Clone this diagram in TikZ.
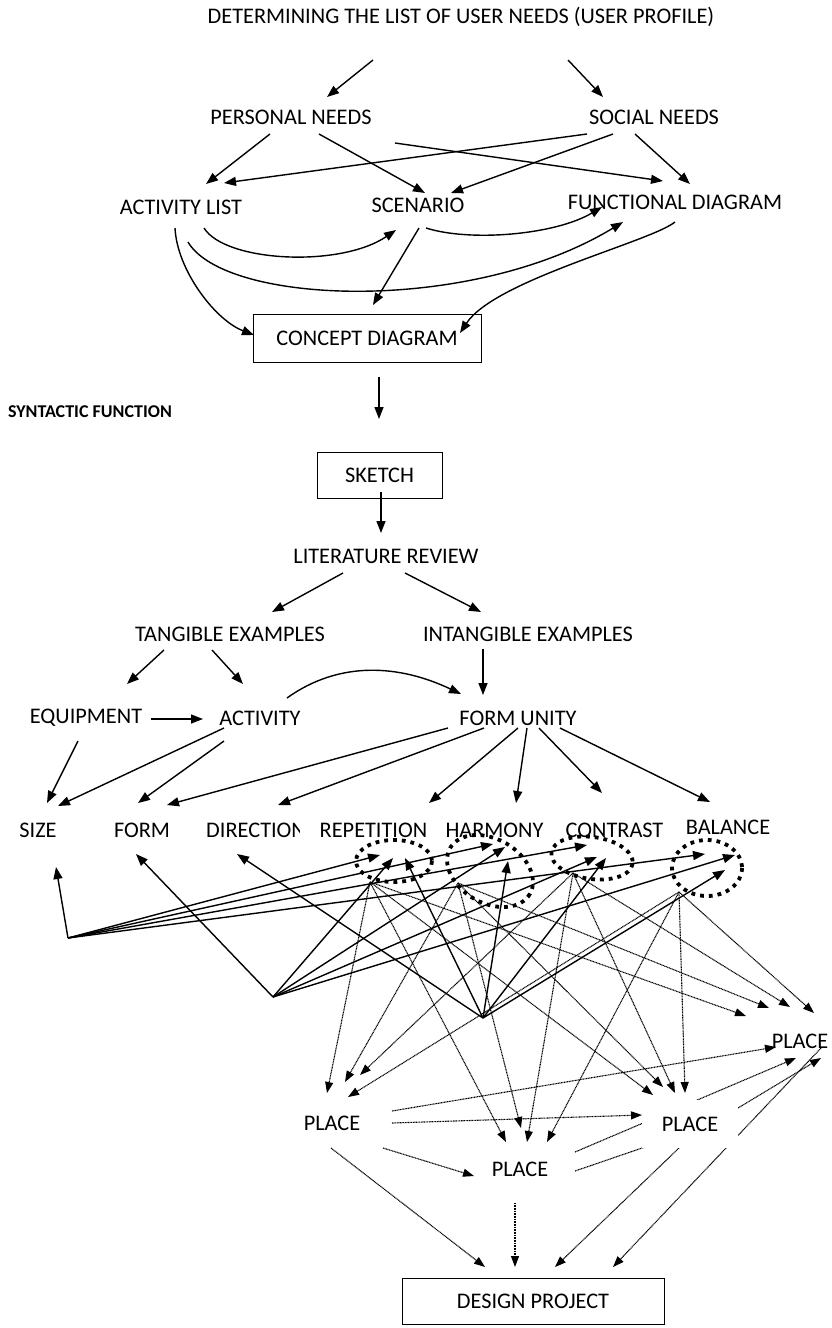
\documentclass[tikz,border=0pt]{standalone}
\usepackage{fontspec}
\setmainfont{Carlito}
\usetikzlibrary{arrows.meta}
\begin{document}
\begin{tikzpicture}[x=1pt,y=-1pt,
  lbl/.style={font=\fontsize{22.3}{26}\selectfont, inner sep=0pt, anchor=center},
  boxed/.style={lbl, draw, line width=1pt},
  arr/.style={line width=1.4pt, -{Triangle[length=12pt,width=9pt]}},
  dotl/.style={line width=1.1pt, dash pattern=on 1pt off 0.6pt, -{Triangle[length=11pt,width=8pt]}},
  dotn/.style={line width=1.1pt, dash pattern=on 1pt off 0.6pt},
  ring/.style={line width=3.8pt, dash pattern=on 3.8pt off 5pt}]
\useasboundingbox (0,0) rectangle (831,1328);

% ---------- nodes ----------
\node[lbl] (T) at (461,17) {DETERMINING THE LIST OF USER NEEDS (USER PROFILE)};
\node[lbl] (PN) at (291,117) {PERSONAL NEEDS};
\node[lbl] (SN) at (654,117) {SOCIAL NEEDS};
\node[lbl] (AL) at (181,207) {ACTIVITY LIST};
\node[lbl] (SC) at (418,205) {SCENARIO};
\node[lbl] (FD) at (675,202) {FUNCTIONAL DIAGRAM};
\node[boxed, minimum width=228pt, minimum height=48pt] (CD) at (367,338) {CONCEPT DIAGRAM};
\node[lbl, font=\fontsize{18}{22}\selectfont\bfseries] (SF) at (90,412) {SYNTACTIC FUNCTION};
\node[boxed, minimum width=125pt, minimum height=46pt] (SK) at (379.5,475) {SKETCH};
\node[lbl] (LR) at (386,556) {LITERATURE REVIEW};
\node[lbl] (TE) at (230,634) {TANGIBLE EXAMPLES};
\node[lbl] (IE) at (528,634) {INTANGIBLE EXAMPLES};
\node[lbl] (EQ) at (86,718) {EQUIPMENT};
\node[lbl] (AC) at (260,718) {ACTIVITY};
\node[lbl] (FU) at (518,718) {FORM UNITY};
\node[lbl] (SZ) at (38,830) {SIZE};
\node[lbl] (FO) at (142,830) {FORM};
\node[lbl, anchor=west] (DI) at (206,830) {DIRECTION};
\node[lbl, fill=white, inner xsep=20pt, inner ysep=2pt] (RE) at (373.5,830) {REPETITION};
\node[lbl] (HA) at (494.5,830) {HARMONY};
\node[lbl] (CO) at (614.5,830) {CONTRAST};
\node[lbl] (BA) at (728,827) {BALANCE};
\node[lbl] (PL1) at (332,1123) {PLACE};
\node[lbl] (PL2) at (520,1169) {PLACE};
\node[lbl] (PL4) at (800,1041) {PLACE};
\node[boxed, minimum width=262pt, minimum height=46pt] (DP) at (533,1301) {DESIGN PROJECT};

% ---------- top connectors ----------
\coordinate (t1) at (373,60);  \coordinate (t1e) at (327,97);
\coordinate (t2) at (568,60);  \coordinate (t2e) at (603,97);
\coordinate (a1) at (270,134); \coordinate (a1e) at (206,184);
\coordinate (a2) at (319,134); \coordinate (a2e) at (425,193);
\coordinate (a3) at (395,143); \coordinate (a3e) at (663,181);
\coordinate (b1) at (587,134); \coordinate (b1e) at (224,183);
\coordinate (b2) at (613,134); \coordinate (b2e) at (451,193);
\coordinate (b3) at (635,134); \coordinate (b3e) at (690,184);
\draw[arr] (t1) -- (t1e);
\draw[arr] (t2) -- (t2e);
\draw[arr] (a1) -- (a1e);
\draw[arr] (a2) -- (a2e);
\draw[arr] (a3) -- (a3e);
\draw[arr] (b1) -- (b1e);
\draw[arr] (b2) -- (b2e);
\draw[arr] (b3) -- (b3e);

\coordinate (c1) at (204,228); \coordinate (c1e) at (396,230);
\coordinate (c2) at (188,242); \coordinate (c2e) at (623,222);
\coordinate (c3) at (175,228); \coordinate (c3e) at (254,335);
\coordinate (c4) at (426,228); \coordinate (c4e) at (602,207);
\coordinate (c5) at (419,228); \coordinate (c5e) at (373,305);
\coordinate (c6) at (675,222); \coordinate (c6e) at (460,333);
\draw[arr] (c1) .. controls (225,262) and (340,268) .. (c1e);
\draw[arr] (c2) .. controls (225,305) and (470,315) .. (c2e);
\draw[arr] (c3) .. controls (177,270) and (215,320) .. (c3e);
\draw[arr] (c4) .. controls (470,242) and (555,235) .. (c4e);
\draw[arr] (c5) -- (c5e);
\draw[arr] (c6) .. controls (650,242) and (495,280) .. (c6e);

% ---------- middle connectors ----------
\coordinate (d1) at (379,377); \coordinate (d1e) at (379,419);
\coordinate (d2) at (381,492); \coordinate (d2e) at (381,533);
\coordinate (d3) at (343,573); \coordinate (d3e) at (272,612);
\coordinate (d4) at (405,573); \coordinate (d4e) at (481,612);
\coordinate (d5) at (164,650); \coordinate (d5e) at (127,684);
\coordinate (d6) at (212,650); \coordinate (d6e) at (243,684);
\coordinate (d7) at (483,649); \coordinate (d7e) at (483,695);
\coordinate (d8) at (151,719); \coordinate (d8e) at (203,719);
\coordinate (d9) at (287,698); \coordinate (d9e) at (461,694);
\draw[arr] (d1) -- (d1e);
\draw[arr] (d2) -- (d2e);
\draw[arr] (d3) -- (d3e);
\draw[arr] (d4) -- (d4e);
\draw[arr] (d5) -- (d5e);
\draw[arr] (d6) -- (d6e);
\draw[arr] (d7) -- (d7e);
\draw[arr] (d8) -- (d8e);
\draw[arr] (d9) .. controls (340,660) and (400,665) .. (d9e);

\coordinate (e1) at (78,741);  \coordinate (e1e) at (47,803);
\coordinate (e2) at (224,728); \coordinate (e2e) at (58,806);
\coordinate (e3) at (224,741); \coordinate (e3e) at (138,803);
\coordinate (e4) at (448,728); \coordinate (e4e) at (167,805);
\coordinate (e5) at (484,728); \coordinate (e5e) at (278,805);
\coordinate (e6) at (518,728); \coordinate (e6e) at (429,803);
\coordinate (e7) at (527,728); \coordinate (e7e) at (516,803);
\coordinate (e8) at (539,728); \coordinate (e8e) at (602,793);
\coordinate (e9) at (560,728); \coordinate (e9e) at (710,802);
\foreach \i in {1,...,9} {\draw[arr] (e\i) -- (e\i e);}

% ---------- dotted rings ----------
\draw[ring] (394,861) ellipse [x radius=38, y radius=21];
\draw[ring, rotate around={-30:(490,871)}] (490,871) ellipse [x radius=46, y radius=32];
\draw[ring, rotate around={-8:(592,858)}] (592,858) ellipse [x radius=41, y radius=21];
\draw[ring] (707,868) ellipse [x radius=35, y radius=28];

% ---------- fans ----------
\coordinate (P1) at (68,938);
\coordinate (P2) at (273,997);
\coordinate (P3) at (483,1018);
\coordinate (fSZ) at (56,867);  \coordinate (fFO) at (136,854); \coordinate (fDI) at (237,854);
\coordinate (r1) at (380,855);  \coordinate (r2) at (393,858);  \coordinate (r3) at (405,858);
\coordinate (h1) at (493,844);  \coordinate (h2) at (505,847);  \coordinate (h3) at (508,861);
\coordinate (k1) at (587,845);  \coordinate (k2) at (597,857);  \coordinate (k3) at (606,858);
\coordinate (g1) at (705,854);  \coordinate (g2) at (735,855);  \coordinate (g3) at (725,870);
\draw[arr] (P1) -- (fSZ);
\draw[arr] (P2) -- (fFO);
\draw[arr] (P3) -- (fDI);
\foreach \n in {1,2,3} {
  \draw[arr] (P\n) -- (r\n);
  \draw[arr] (P\n) -- (h\n);
  \draw[arr] (P\n) -- (k\n);
  \draw[arr] (P\n) -- (g\n);
}

% ---------- dotted lines from rings to places ----------
\coordinate (Sr) at (370,882);
\coordinate (Sh) at (458,883);
\coordinate (Sc) at (573,873);
\coordinate (Sb) at (679,892);
\coordinate (q1r) at (327,1093); \coordinate (q1h) at (345,1082); \coordinate (q1c) at (360,1075); \coordinate (q1b) at (348,1097);
\coordinate (q2r) at (506,1142); \coordinate (q2h) at (521,1128); \coordinate (q2c) at (527,1142); \coordinate (q2b) at (547,1142);
\coordinate (q3r) at (653,1095); \coordinate (q3h) at (663,1087); \coordinate (q3c) at (675,1093); \coordinate (q3b) at (685,1093);
\coordinate (q4r) at (746,1016); \coordinate (q4h) at (769,1008); \coordinate (q4c) at (790,1007); \coordinate (q4b) at (814,1013);
\foreach \p in {1,2,3,4} {
  \draw[dotl] (Sr) -- (q\p r);
  \draw[dotl] (Sh) -- (q\p h);
  \draw[dotl] (Sc) -- (q\p c);
  \draw[dotl] (Sb) -- (q\p b);
}

% ---------- place connectors ----------
\coordinate (m1) at (392,1111);  \coordinate (m1e) at (776,1047);
\coordinate (m2) at (392,1123);  \coordinate (m2e) at (642,1115);
\coordinate (m3) at (383,1148);  \coordinate (m3e) at (474,1176);
\coordinate (m4) at (331,1148);  \coordinate (m4e) at (485,1267);
\coordinate (m5) at (515,1203);  \coordinate (m5e) at (515,1267);
\coordinate (m6) at (679,1148);  \coordinate (m6e) at (555,1267);
\coordinate (m7) at (822,1047);  \coordinate (m7e) at (613,1267);
\coordinate (m8) at (575,1152);  \coordinate (m8e) at (796,1058);
\coordinate (m9) at (575,1171);  \coordinate (m9e) at (645,1147);
\coordinate (m10) at (738,1108); \coordinate (m10e) at (821,1058);
\draw[dotl] (m1) -- (m1e);
\draw[dotl] (m2) -- (m2e);
\draw[dotl] (m3) -- (m3e);
\draw[dotl] (m4) -- (m4e);
\draw[dotl] (m5) -- (m5e);
\draw[dotl] (m6) -- (m6e);
\draw[dotl] (m7) -- (m7e);
\draw[dotl] (m8) -- (m8e);
\draw[dotn] (m9) -- (m9e);
\draw[dotl] (m10) -- (m10e);

\node[lbl, fill=white, minimum width=96pt, minimum height=48pt] (PL3) at (690,1124) {PLACE};
\end{tikzpicture}
\end{document}
